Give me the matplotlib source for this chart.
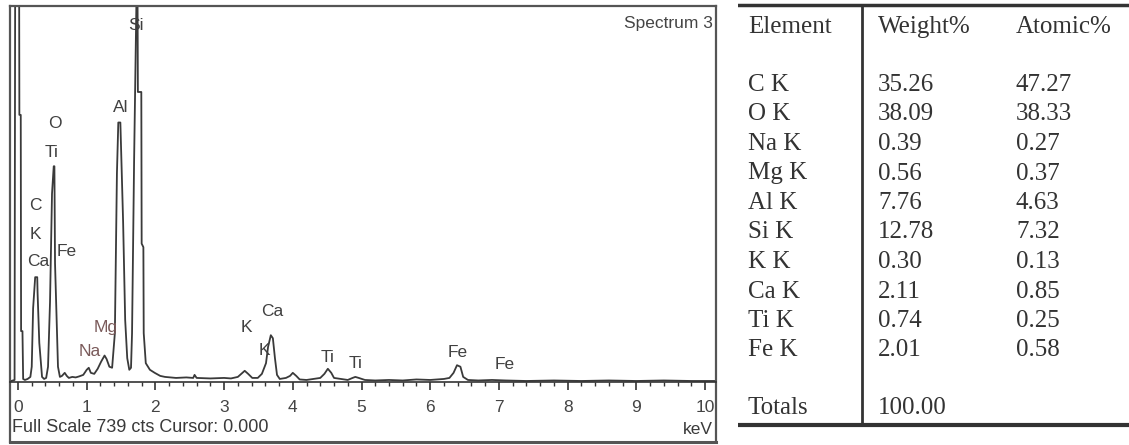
import matplotlib
matplotlib.use("Agg")
import matplotlib.pyplot as plt
from matplotlib.ticker import MultipleLocator

# EDS spectrum trace (energy in keV, counts)
energy = [-0.10, -0.05, -0.04, 0.015, 0.02, 0.04, 0.045, 0.065, 0.075, 0.10, 0.14, 0.18,
          0.20, 0.22, 0.25, 0.28, 0.285, 0.31, 0.35, 0.38, 0.41,
          0.437, 0.466, 0.495, 0.52, 0.53, 0.539, 0.568, 0.582, 0.61,
          0.64, 0.68, 0.71, 0.74, 0.79, 0.84, 0.89, 0.95, 1.00, 1.03, 1.06, 1.11,
          1.16, 1.21, 1.26, 1.29, 1.33, 1.37,
          1.41, 1.44, 1.46, 1.49, 1.53, 1.56, 1.59, 1.62, 1.645,
          1.66, 1.69, 1.715, 1.725, 1.74, 1.745, 1.795, 1.80, 1.825, 1.83, 1.86,
          1.92, 1.99, 2.07, 2.14, 2.30, 2.45, 2.55, 2.57, 2.60, 2.80, 3.00, 3.10, 3.20,
          3.25, 3.30, 3.35, 3.41, 3.49, 3.55, 3.61, 3.64, 3.68, 3.71, 3.74, 3.77, 3.81,
          3.90, 3.96, 4.00, 4.05, 4.10, 4.20, 4.30, 4.40, 4.46, 4.51, 4.56, 4.60,
          4.70, 4.80, 4.87, 4.91, 4.96, 5.05, 5.20, 5.40, 5.60, 5.80, 6.00, 6.20,
          6.28, 6.34, 6.39, 6.44, 6.48, 6.55, 6.70, 6.90, 7.10, 7.40, 7.80, 8.20,
          8.60, 9.00, 9.40, 9.80, 10.20]
counts = [2, 4, 900, 900, 525, 525, 100, 100, 6, 4, 6, 10,
          30, 145, 206, 206, 175, 77, 10, 6, 8,
          30, 157, 370, 424, 424, 233, 96, 30, 10,
          12, 18, 12, 8, 10, 9, 11, 14, 24, 28, 18, 16,
          26, 40, 52, 45, 30, 28,
          96, 410, 510, 510, 315, 122, 47, 24, 28,
          96, 435, 665, 760, 760, 570, 570, 272, 265, 96, 37,
          24, 18, 12, 10, 8, 9, 8, 14, 8, 7, 8, 7, 10,
          16, 22, 16, 8, 8, 16, 37, 69, 92, 86, 47, 14, 6,
          8, 12, 18, 12, 5, 4, 6, 8, 16, 26, 18, 8,
          6, 4, 8, 10, 8, 4, 3, 4, 3, 5, 4, 6,
          8, 18, 33, 30, 10, 4, 3, 4, 3, 2, 3, 2,
          3, 2, 3, 2, 2]

# peak labels: text, energy, counts
peak_labels = [("Si", 1.71, 700), ("Al", 1.49, 540), ("O", 0.53, 508),
               ("Ti", 0.49, 452), ("C", 0.25, 347), ("K", 0.25, 290),
               ("Ca", 0.30, 236), ("Fe", 0.71, 256), ("Mg", 1.27, 108),
               ("Na", 1.05, 59), ("K", 3.32, 108), ("Ca", 3.70, 138),
               ("K", 3.58, 61), ("Ti", 4.51, 49), ("Ti", 4.92, 37),
               ("Fe", 6.40, 57), ("Fe", 7.09, 35)]
faint_labels = {"Mg", "Na"}

full_scale = 739

# quantification table
elements = ["C K", "O K", "Na K", "Mg K", "Al K", "Si K", "K K", "Ca K", "Ti K", "Fe K"]
weight_pct = ["35.26", "38.09", "0.39", "0.56", "7.76", "12.78", "0.30", "2.11", "0.74", "2.01"]
atomic_pct = ["47.27", "38.33", "0.27", "0.37", "4.63", "7.32", "0.13", "0.85", "0.25", "0.58"]
total_weight = "100.00"

W, H = 1129, 445
fig = plt.figure(figsize=(W / 100, H / 100), dpi=100)
sans = "Liberation Sans"
serif = "Liberation Serif"
ink = "#3a3a3a"

# ---------------- spectrum panel ----------------
ax = fig.add_axes([10 / W, 3 / H, 706 / W, 436 / H])
px_per_kev = 68.7
ax.set_xlim((10 - 18) / px_per_kev, (716 - 18) / px_per_kev)
cts_per_px = full_scale / (382 - 6)
ax.set_ylim(-(442 - 382) * cts_per_px, full_scale)

ax.plot(energy, counts, color=ink, lw=1.3)

for txt, e, c in peak_labels:
    col = "#7a5a5a" if txt in faint_labels else "#404040"
    ax.text(e, c, txt, ha="center", va="center", fontsize=12.5,
            family=sans, color=col)

ax.spines["bottom"].set_position(("data", 0))
ax.spines["bottom"].set_color("#333333")
ax.spines["bottom"].set_linewidth(1.2)
for s in ["left", "right", "top"]:
    ax.spines[s].set_color("#555555")
    ax.spines[s].set_linewidth(1.6)
ax.plot([0, 1], [0, 0], transform=ax.transAxes, color="#555555", lw=2.2,
        clip_on=False)

ax.xaxis.set_major_locator(MultipleLocator(1))
ax.xaxis.set_minor_locator(MultipleLocator(0.2))
ax.tick_params(axis="x", which="major", direction="out", length=6, width=1.2,
               color="#333333", pad=7, labelsize=12.5, labelcolor="#444444")
ax.tick_params(axis="x", which="minor", direction="out", length=3, width=1,
               color="#333333")
for lab in ax.get_xticklabels():
    lab.set_family(sans)
ax.set_yticks([])

ax.text(0.995, 0.978, "Spectrum 3", transform=ax.transAxes, ha="right",
        va="top", fontsize=12.5, family=sans, color="#444444")
ax.text(0.003, 0.033, f"Full Scale {full_scale} cts Cursor: 0.000",
        transform=ax.transAxes, ha="left", va="center", fontsize=13,
        family=sans, color="#3a3a3a")
ax.text(0.995, 0.028, "keV", transform=ax.transAxes, ha="right",
        va="center", fontsize=12.5, family=sans, color="#3a3a3a")

# ---------------- table panel ----------------
tb = fig.add_axes([738 / W, 0, (W - 738) / W, 1])
tb.set_xlim(738, W)
tb.set_ylim(H, 0)
tb.axis("off")

tcol = "#333333"
tb.plot([738, W], [5, 5], color="#333333", lw=2.5)
tb.plot([738, W], [425, 425], color="#333333", lw=3)
tb.plot([862, 862], [5, 425], color="#333333", lw=2)

col_x = [748, 878, 1016]
fs = 18
for x, head in zip(col_x, ["Element", "Weight%", "Atomic%"]):
    tb.text(x, 27, head, ha="left", va="center", fontsize=fs, family=serif,
            color=tcol)

row0, dy = 85, 29.5
for i, (el, w, a) in enumerate(zip(elements, weight_pct, atomic_pct)):
    y = row0 + i * dy
    tb.text(col_x[0], y, el, ha="left", va="center", fontsize=fs,
            family=serif, color=tcol)
    tb.text(col_x[1], y, w, ha="left", va="center", fontsize=fs,
            family=serif, color=tcol)
    tb.text(col_x[2], y, a, ha="left", va="center", fontsize=fs,
            family=serif, color=tcol)

tb.text(col_x[0], 408, "Totals", ha="left", va="center", fontsize=fs,
        family=serif, color=tcol)
tb.text(col_x[1], 408, total_weight, ha="left", va="center", fontsize=fs,
        family=serif, color=tcol)

fig.savefig("out.png", dpi=100)
